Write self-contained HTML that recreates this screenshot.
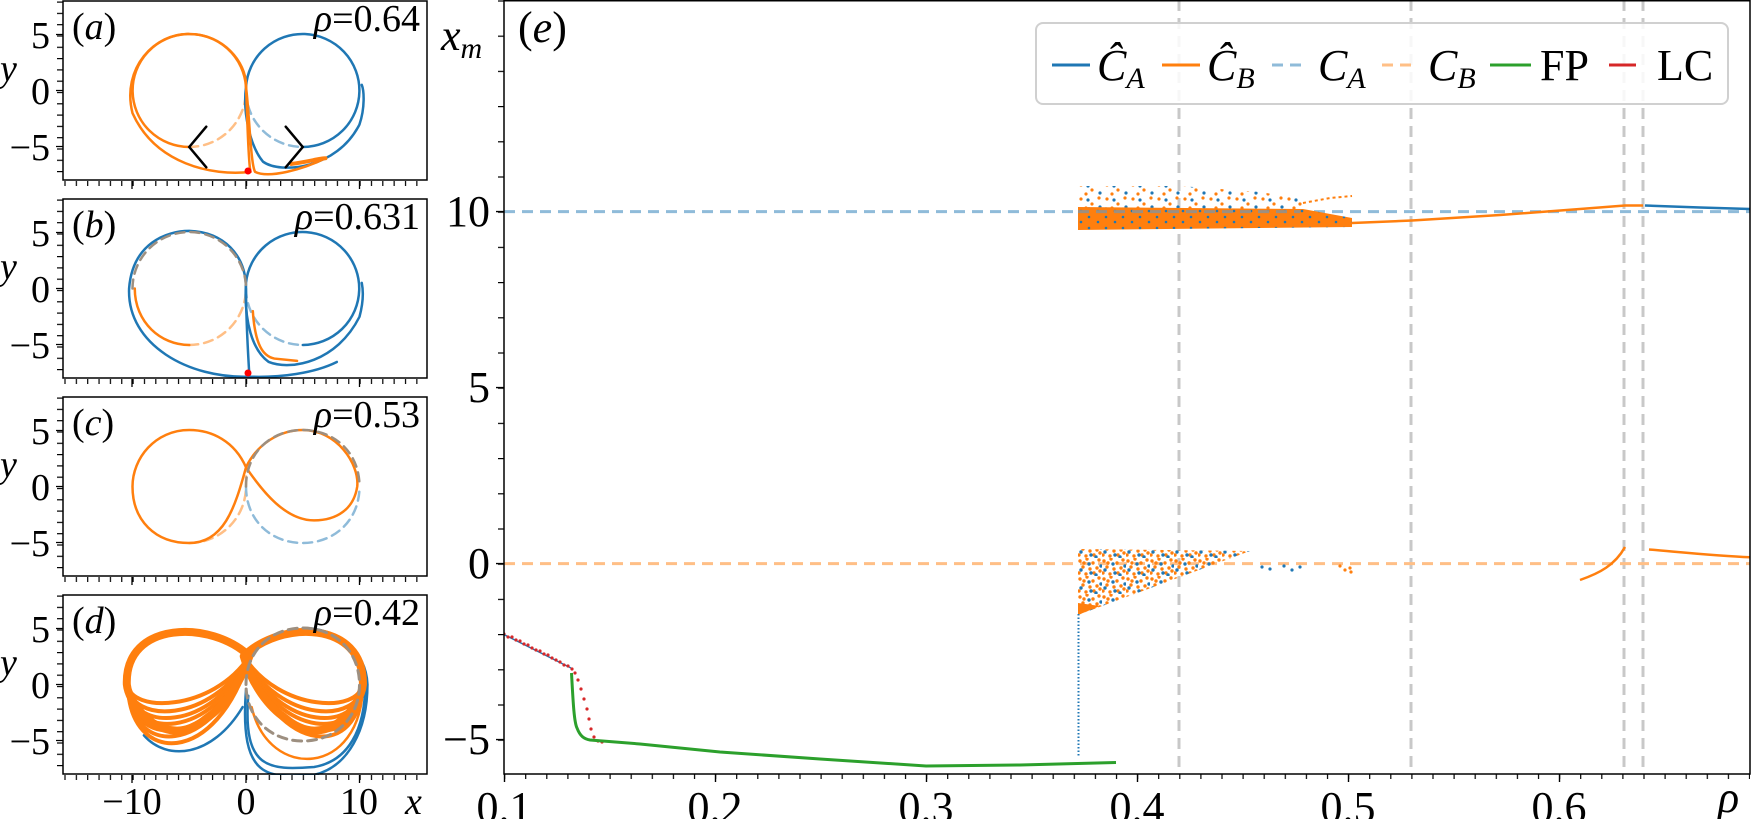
<!DOCTYPE html>
<html><head><meta charset="utf-8"><style>
html,body{margin:0;padding:0;background:#fff}
svg{display:block}
text{font-family:"Liberation Serif","DejaVu Serif",serif;fill:#000}
.it{font-style:italic}
</style></head><body>
<svg width="1751" height="819" viewBox="0 0 1751 819" xmlns="http://www.w3.org/2000/svg">
<defs>
<pattern id="mxx" x="504" y="0" width="21.1" height="10" patternUnits="userSpaceOnUse"><rect x="0" y="0" width="1.2" height="10" fill="#000"/></pattern>
<pattern id="mxy" x="0" y="563.6" width="10" height="35.2" patternUnits="userSpaceOnUse"><rect x="0" y="0" width="10" height="1.2" fill="#000"/></pattern>
<pattern id="lpx" x="246" y="0" width="11.35" height="10" patternUnits="userSpaceOnUse"><rect x="0" y="0" width="1.2" height="10" fill="#000"/></pattern>
<pattern id="lpy" x="0" y="0.5" width="10" height="11.3" patternUnits="userSpaceOnUse"><rect x="0" y="0" width="10" height="1.2" fill="#000"/></pattern>
<pattern id="cloud" x="1078" y="0" width="24" height="18" patternUnits="userSpaceOnUse">
 <g fill="#ff7f0e"><circle cx="2" cy="3" r="1.7"/><circle cx="9" cy="1" r="1.7"/><circle cx="15" cy="5" r="1.7"/><circle cx="21" cy="2" r="1.7"/><circle cx="5" cy="9" r="1.7"/><circle cx="12" cy="11" r="1.7"/><circle cx="19" cy="10" r="1.7"/><circle cx="1" cy="15" r="1.7"/><circle cx="8" cy="16" r="1.7"/><circle cx="16" cy="15" r="1.7"/><circle cx="22" cy="13" r="1.7"/><circle cx="6" cy="5" r="1.7"/></g>
 <g fill="#1f77b4"><circle cx="11" cy="6" r="1.7"/><circle cx="3" cy="12" r="1.7"/><circle cx="18" cy="17" r="1.7"/><circle cx="23" cy="8" r="1.7"/><circle cx="13" cy="15" r="1.7"/></g>
</pattern>
<pattern id="sparse" x="1078" y="0" width="26" height="14" patternUnits="userSpaceOnUse">
 <g fill="#ff7f0e"><circle cx="3" cy="3" r="1.6"/><circle cx="14" cy="8" r="1.6"/><circle cx="21" cy="2" r="1.6"/><circle cx="8" cy="12" r="1.6"/></g>
 <g fill="#1f77b4"><circle cx="10" cy="4" r="1.6"/><circle cx="22" cy="11" r="1.6"/></g>
</pattern>
<pattern id="bspeck" x="1078" y="0" width="17" height="11" patternUnits="userSpaceOnUse">
 <g fill="#1f77b4"><circle cx="3" cy="2" r="1.3"/><circle cx="11" cy="8" r="1.3"/></g>
</pattern>
<clipPath id="cp"><rect x="63" y="0" width="364" height="180"/></clipPath>
<clipPath id="cm"><rect x="504" y="0" width="1246" height="774"/></clipPath>
</defs>

<!-- Panel (a) -->
<g transform="translate(0,1)">
 <g clip-path="url(#cp)">
 <g transform="translate(246,89.5) scale(11.35,-11.3)" fill="none" stroke-linecap="round">
  <path d="M -5 -5 A 5 5 0 0 1 0 0" stroke="#ffbf86" stroke-width="2.5" stroke-dasharray="9 6" vector-effect="non-scaling-stroke"/>
  <path d="M 0 0 A 5 5 0 0 1 5 -5" stroke="#8fbbd9" stroke-width="2.5" stroke-dasharray="9 6" vector-effect="non-scaling-stroke"/>
  <path d="M 5 -5 A 5 5 0 1 1 0 0.3 C -0.3 -2 0.4 -5 1.5 -6.3 C 3 -7.4 8 -7 10 -3 C 10.5 -1.5 10.4 0 10.2 0.5" stroke="#1f77b4" stroke-width="2.5" vector-effect="non-scaling-stroke"/>
  <path d="M -5 -5 A 5 5 0 1 0 0 0.3 C 0.3 -2 0.4 -6.5 0.8 -7.2 C 2 -7.8 5 -7 7 -6" stroke="#ff7f0e" stroke-width="2.5" vector-effect="non-scaling-stroke"/>
  <path d="M 0.4 -7.2 C -3 -7.6 -8 -6.5 -10 -2 C -11 2 -8 5.1 -5 5 C -2 5 0 2.5 0 0.5 C 0.1 -2 0.2 -6.5 0.4 -7.2" stroke="#ff7f0e" stroke-width="2.5" vector-effect="non-scaling-stroke"/>
  <path d="M 4 -6.5 C 5.5 -6.3 6.5 -6 7 -6" stroke="#ff7f0e" stroke-width="4" vector-effect="non-scaling-stroke"/>
  <path d="M -3.5 -3.2 L -5 -5 L -3.5 -6.8 M 3.5 -3.2 L 5 -5 L 3.5 -6.8" stroke="#000" stroke-width="2.5" vector-effect="non-scaling-stroke"/>
 </g>
 <circle cx="248" cy="170" r="3.5" fill="#ff0000"/>
 </g>
</g>

<!-- Panel (b) -->
<g transform="translate(0,199)">
 <g clip-path="url(#cp)">
 <g transform="translate(246,89.5) scale(11.35,-11.3)" fill="none" stroke-linecap="round">
  <path d="M -5 -5 A 5 5 0 0 1 0 0" stroke="#ffbf86" stroke-width="2.5" stroke-dasharray="9 6" vector-effect="non-scaling-stroke"/>
  <path d="M 0 0 A 5 5 0 0 1 5 -5" stroke="#8fbbd9" stroke-width="2.5" stroke-dasharray="9 6" vector-effect="non-scaling-stroke"/>
  <path d="M 0.3 -7.8 C -5 -8 -10.5 -5 -10.3 0 C -10 4 -7 5.1 -5 5.1 C -2 5 0 3 0 0 C 0 -3 0.2 -6 0.3 -7.8 C 3 -7.9 6 -7.5 8 -6.5" stroke="#1f77b4" stroke-width="2.5" vector-effect="non-scaling-stroke"/>
  <path d="M 5 -5 A 5 5 0 1 1 0 0.5 C -0.2 -3 0.6 -5.5 2 -6.5 C 4 -7.3 8 -6.5 10 -2.5 C 10.4 -1 10.3 0 10.2 0.5" stroke="#1f77b4" stroke-width="2.5" vector-effect="non-scaling-stroke"/>
  <path d="M -5 -5 C -7.5 -5 -9.8 -3 -9.8 0" stroke="#ff7f0e" stroke-width="2.5" vector-effect="non-scaling-stroke"/>
  <path d="M 0.6 -2 C 0.8 -5 1.5 -6 2.5 -6.2 L 4.5 -6.4" stroke="#ff7f0e" stroke-width="2.5" vector-effect="non-scaling-stroke"/>
  <path d="M -10 0 A 5 5 0 0 0 0 0" stroke="#9d8f80" stroke-width="2.5" stroke-dasharray="9 6" vector-effect="non-scaling-stroke"/>
 </g>
 <circle cx="248" cy="174" r="3.5" fill="#ff0000"/>
 </g>
</g>

<!-- Panel (c) -->
<g transform="translate(0,397)">
 <g clip-path="url(#cp)">
 <g transform="translate(246,89.5) scale(11.35,-11.3)" fill="none" stroke-linecap="round">
  <path d="M -5 -5 A 5 5 0 0 1 0 0 L 0 1" stroke="#ffbf86" stroke-width="2.5" stroke-dasharray="9 6" vector-effect="non-scaling-stroke"/>
  <path d="M 0 0 C 0 -3 2.2 -5 5 -5 C 7.8 -5 10 -3 10 0" stroke="#8fbbd9" stroke-width="2.5" stroke-dasharray="9 6" vector-effect="non-scaling-stroke"/>
  <path d="M 0 1.7 C -1 4 -3 5 -5 5 C -8 5 -10 2.5 -10 0 C -10 -3 -8 -5 -5 -5 C -2 -5 -1 -2 0 1.7 C 1 3.8 3 5 5 5 C 8 5 10 2 9.8 0 C 9.5 -2 8 -3 6 -3 C 3.5 -3 1.5 -0.5 0 1.7 Z" stroke="#ff7f0e" stroke-width="2.5" vector-effect="non-scaling-stroke"/>
  <path d="M 0 0 C 0 3 2.2 5 5 5 C 7.8 5 10 3 10 0" stroke="#9d8f80" stroke-width="2.5" stroke-dasharray="9 6" vector-effect="non-scaling-stroke"/>
 </g>
 </g>
</g>

<!-- Panel (d) -->
<g transform="translate(0,595)">
 <g clip-path="url(#cp)">
 <g transform="translate(246,89.5) scale(11.35,-11.3)" fill="none" stroke-linecap="round">
  <path d="M 0 -0.5 C -0.6 -8.5 2 -8.3 6 -8 C 9 -7.3 10.7 -4 10.7 0 C 10.6 3 8 5 5 5" stroke="#1f77b4" stroke-width="2.5" vector-effect="non-scaling-stroke"/>
  <path d="M 0.2 -1 C -0.3 -7.5 2 -7.6 6 -7.3 C 9 -6.8 10.5 -4 10.5 0" stroke="#1f77b4" stroke-width="2.5" vector-effect="non-scaling-stroke"/>
  <path d="M -9 -4.5 C -7 -6.8 -3 -6.5 -0.3 -2" stroke="#1f77b4" stroke-width="2.5" vector-effect="non-scaling-stroke"/>
  <g stroke="#ff7f0e" stroke-width="4">
   <path d="M 0.3 2.5 C -3 5.6 -10.6 5.6 -10.4 0 C -10.3 -2.5 -3 -2.5 0.3 2.5" vector-effect="non-scaling-stroke"/>
   <path d="M 0.3 2.5 C -3 5.6 -10.6 5.6 -10.4 0 C -10.3 -3.5 -3 -3.5 0.3 2.5" vector-effect="non-scaling-stroke"/>
   <path d="M 0.3 2.5 C -3 5.6 -10.6 5.6 -10.4 0 C -10.3 -4.3 -3 -4.3 0.3 2.5" vector-effect="non-scaling-stroke"/>
   <path d="M 0.3 2.5 C -3 5.6 -10.6 5.6 -10.4 0 C -10.3 -5 -3 -5 0.3 2.5" vector-effect="non-scaling-stroke"/>
   <path d="M 0.3 2.5 C -3 5.6 -10.6 5.6 -10.4 0 C -10.3 -5.8 -3 -5.8 0.3 2.5" vector-effect="non-scaling-stroke"/>
   <path d="M 0.3 2.5 C -3 5.6 -10.6 5.6 -10.4 0 C -10.3 -6.5 -3 -6.5 0.3 2.5" vector-effect="non-scaling-stroke"/>
   <path d="M 0.3 2.5 C -3 5.6 -10.6 5.6 -10.4 0 C -10.3 -7.3 -2.5 -7.3 0.3 2.5" vector-effect="non-scaling-stroke"/>
   <path d="M -0.2 2.5 C 3 5.6 10.3 5.6 10.2 0 C 10.1 -2.5 3 -2.5 -0.2 2.5" vector-effect="non-scaling-stroke"/>
   <path d="M -0.2 2.5 C 3 5.6 10.3 5.6 10.2 0 C 10.1 -3.5 3 -3.5 -0.2 2.5" vector-effect="non-scaling-stroke"/>
   <path d="M -0.2 2.5 C 3 5.6 10.3 5.6 10.2 0 C 10.1 -4.3 3 -4.3 -0.2 2.5" vector-effect="non-scaling-stroke"/>
   <path d="M -0.2 2.5 C 3 5.6 10.3 5.6 10.2 0 C 10.1 -5 3 -5 -0.2 2.5" vector-effect="non-scaling-stroke"/>
   <path d="M -0.2 2.5 C 3 5.6 10.3 5.6 10.2 0 C 10.1 -5.8 3 -5.8 -0.2 2.5" vector-effect="non-scaling-stroke"/>
   <path d="M -0.2 2.5 C 3 5.6 10.3 5.6 10.2 0 C 10.1 -6.5 3 -6.5 -0.2 2.5" vector-effect="non-scaling-stroke"/>
  </g>
  <path d="M -0.2 2.5 C 3 5.7 10.4 5.7 10.3 0 C 10.2 -8.2 2 -8.6 0.5 -2" stroke="#ff7f0e" stroke-width="2.5" vector-effect="non-scaling-stroke"/>
  <path d="M 0.3 2.5 C -3 5.7 -10.7 5.7 -10.5 0 C -10.3 -2 -7 -6 -3.5 -3 C -2 -2 -0.5 0 0.3 2.5" stroke="#ff7f0e" stroke-width="8" vector-effect="non-scaling-stroke"/>
  <path d="M -0.2 2.5 C 3 5.7 10.4 5.7 10.3 0 C 10.1 -2 7 -6 3.5 -3 C 2 -2 0.5 0 -0.2 2.5" stroke="#ff7f0e" stroke-width="8" vector-effect="non-scaling-stroke"/>
  <path d="M 0 0 C 0 3 2.2 5 5 5 C 7.8 5 10 3 10 0 C 10 -3 7.8 -5 5 -5 C 2.2 -5 0 -3 0 0" stroke="#9d8f80" stroke-width="3" stroke-dasharray="9 6" vector-effect="non-scaling-stroke"/>
 </g>
 </g>
</g>

<!-- left panel frames, ticks -->
<g>
 <g transform="translate(0,1)">
  <rect x="57" y="0" width="6" height="180" fill="url(#lpy)"/><rect x="63" y="180" width="364" height="5" fill="url(#lpx)"/>
  <path d="M56 33.5h7M56 89.5h7M56 145.5h7M132 180v8M246 180v8M359.5 180v8" stroke="#000" stroke-width="1.3"/>
  <rect x="63" y="0" width="364" height="179" fill="none" stroke="#000" stroke-width="1.5"/>
 </g>
 <g transform="translate(0,199)">
  <rect x="57" y="0" width="6" height="180" fill="url(#lpy)"/><rect x="63" y="180" width="364" height="5" fill="url(#lpx)"/>
  <path d="M56 33.5h7M56 89.5h7M56 145.5h7M132 180v8M246 180v8M359.5 180v8" stroke="#000" stroke-width="1.3"/>
  <rect x="63" y="0" width="364" height="179" fill="none" stroke="#000" stroke-width="1.5"/>
 </g>
 <g transform="translate(0,397)">
  <rect x="57" y="0" width="6" height="180" fill="url(#lpy)"/><rect x="63" y="180" width="364" height="5" fill="url(#lpx)"/>
  <path d="M56 33.5h7M56 89.5h7M56 145.5h7M132 180v8M246 180v8M359.5 180v8" stroke="#000" stroke-width="1.3"/>
  <rect x="63" y="0" width="364" height="179" fill="none" stroke="#000" stroke-width="1.5"/>
 </g>
 <g transform="translate(0,595)">
  <rect x="57" y="0" width="6" height="180" fill="url(#lpy)"/><rect x="63" y="180" width="364" height="5" fill="url(#lpx)"/>
  <path d="M56 33.5h7M56 89.5h7M56 145.5h7M132 180v8M246 180v8M359.5 180v8" stroke="#000" stroke-width="1.3"/>
  <rect x="63" y="0" width="364" height="179" fill="none" stroke="#000" stroke-width="1.5"/>
 </g>
</g>

<!-- left panel labels -->
<g font-size="38">
 <g transform="translate(0,1)">
  <text x="50" y="47" text-anchor="end">5</text><text x="50" y="103" text-anchor="end">0</text><text x="50" y="159" text-anchor="end">−5</text>
  <text x="0" y="80" class="it">y</text>
  <text x="72" y="38">(<tspan class="it">a</tspan>)</text>
  <text x="420" y="30" text-anchor="end"><tspan class="it">ρ</tspan>=0.64</text>
 </g>
 <g transform="translate(0,199)">
  <text x="50" y="47" text-anchor="end">5</text><text x="50" y="103" text-anchor="end">0</text><text x="50" y="159" text-anchor="end">−5</text>
  <text x="0" y="80" class="it">y</text>
  <text x="72" y="38">(<tspan class="it">b</tspan>)</text>
  <text x="420" y="30" text-anchor="end"><tspan class="it">ρ</tspan>=0.631</text>
 </g>
 <g transform="translate(0,397)">
  <text x="50" y="47" text-anchor="end">5</text><text x="50" y="103" text-anchor="end">0</text><text x="50" y="159" text-anchor="end">−5</text>
  <text x="0" y="80" class="it">y</text>
  <text x="72" y="38">(<tspan class="it">c</tspan>)</text>
  <text x="420" y="30" text-anchor="end"><tspan class="it">ρ</tspan>=0.53</text>
 </g>
 <g transform="translate(0,595)">
  <text x="50" y="47" text-anchor="end">5</text><text x="50" y="103" text-anchor="end">0</text><text x="50" y="159" text-anchor="end">−5</text>
  <text x="0" y="80" class="it">y</text>
  <text x="72" y="38">(<tspan class="it">d</tspan>)</text>
  <text x="420" y="30" text-anchor="end"><tspan class="it">ρ</tspan>=0.42</text>
 </g>
 <text x="132" y="814" text-anchor="middle">−10</text>
 <text x="246" y="814" text-anchor="middle">0</text>
 <text x="359" y="814" text-anchor="middle">10</text>
 <text x="405" y="814" class="it">x</text>
</g>

<!-- ============ MAIN PANEL ============ -->
<g clip-path="url(#cm)">
 <path d="M1179 0V774M1411 0V774M1624 0V774M1643 0V774" stroke="#c8c8c8" stroke-width="3" stroke-dasharray="11 7"/>
 <path d="M504 211.6H1751" stroke="#8fbbd9" stroke-width="3" stroke-dasharray="11 7"/>
 <path d="M504 563.6H1751" stroke="#ffbf86" stroke-width="3" stroke-dasharray="11 7"/>
 <!-- upper cloud -->
 <path d="M1078 186 L1180 186 L1260 192 L1303 199 L1303 210 L1078 210 Z" fill="url(#sparse)"/>
 <path d="M1078 207 L1303 209 L1352 218 L1352 227 L1078 230 Z" fill="#ff7f0e"/>
 <path d="M1078 207 L1303 209 L1352 218 L1352 227 L1078 230 Z" fill="url(#bspeck)"/>
 <path d="M1078 211.6H1300" stroke="#9d8f80" stroke-width="3" stroke-dasharray="11 7"/>
 <path d="M1303 203 L1330 198 L1352 196" stroke="#ff7f0e" stroke-width="2" fill="none" stroke-dasharray="3 3"/>
 <!-- orange continuation line -->
 <path d="M1352 223 L1412 220.5 L1500 215 L1580 209 L1625 205.5 L1643 205.5" stroke="#ff7f0e" stroke-width="2.5" fill="none"/>
 <path d="M1645 205.5 L1700 207.5 L1751 209" stroke="#1f77b4" stroke-width="2.5" fill="none"/>
 <!-- lower cloud -->
 <path d="M1078 549 L1250 551 L1078 615 Z" fill="url(#cloud)"/>
 <path d="M1078 603 L1100 606 L1078 615 Z" fill="#ff7f0e"/>
 <g fill="#1f77b4"><circle cx="1262" cy="567" r="1.6"/><circle cx="1270" cy="569" r="1.6"/><circle cx="1284" cy="566" r="1.6"/><circle cx="1292" cy="570" r="1.6"/><circle cx="1300" cy="567" r="1.6"/></g>
 <g fill="#ff7f0e"><circle cx="1340" cy="566" r="1.6"/><circle cx="1345" cy="570" r="1.6"/><circle cx="1350" cy="568" r="1.6"/><circle cx="1351" cy="572" r="1.6"/></g>
 <path d="M1580 580 C1600 573 1615 565 1625 547" stroke="#ff7f0e" stroke-width="2.5" fill="none"/>
 <path d="M1649 549.5 C1690 553 1720 556 1751 557.3" stroke="#ff7f0e" stroke-width="2.5" fill="none"/>
 <!-- blue vertical dotted -->
 <path d="M1078.5 614V757" stroke="#1f77b4" stroke-width="2" stroke-dasharray="1.5 2"/>
 <!-- LC branch -->
 <path d="M504 634.6 L571 668" stroke="#1f77b4" stroke-width="1.5"/>
 <g fill="#d62728">
  <circle cx="504" cy="634" r="1.6"/><circle cx="508" cy="637" r="1.6"/><circle cx="512" cy="637" r="1.6"/><circle cx="516" cy="640" r="1.6"/><circle cx="520" cy="641" r="1.6"/><circle cx="524" cy="644" r="1.6"/><circle cx="528" cy="645" r="1.6"/><circle cx="532" cy="648" r="1.6"/><circle cx="536" cy="650" r="1.6"/><circle cx="540" cy="651" r="1.6"/><circle cx="544" cy="654" r="1.6"/><circle cx="548" cy="655" r="1.6"/><circle cx="552" cy="658" r="1.6"/><circle cx="556" cy="660" r="1.6"/><circle cx="560" cy="662" r="1.6"/><circle cx="564" cy="665" r="1.6"/><circle cx="568" cy="666" r="1.6"/><circle cx="572" cy="669" r="1.6"/>
  <circle cx="575" cy="673" r="1.6"/><circle cx="578" cy="680" r="1.6"/><circle cx="581" cy="689" r="1.6"/><circle cx="584" cy="699" r="1.6"/><circle cx="587" cy="709" r="1.6"/><circle cx="589" cy="719" r="1.6"/><circle cx="591" cy="729" r="1.6"/><circle cx="594" cy="737" r="1.6"/><circle cx="598" cy="741" r="1.6"/><circle cx="602" cy="742" r="1.6"/>
 </g>
 <!-- green FP -->
 <path d="M571.5 673 C573 700 574 722 577 728 C580 736 584 739 590 740 L640 744 L720 752 L820 759 L926 766 L1020 765 L1116 762.5" stroke="#2ca02c" stroke-width="3" fill="none"/>
</g>

<!-- main frame and ticks -->
<rect x="504" y="774" width="1246" height="5" fill="url(#mxx)"/>
<rect x="498" y="0" width="6" height="774" fill="url(#mxy)"/>
<path d="M504.5 774v8M715.5 774v8M926.5 774v8M1137.5 774v8M1348.5 774v8M1559.5 774v8M496 563.6h8M496 387.6h8M496 211.6h8M496 739.6h8" stroke="#000" stroke-width="1.4"/>
<rect x="504" y="0.75" width="1246" height="773.25" fill="none" stroke="#000" stroke-width="1.5"/>

<g font-size="44">
 <text x="490" y="226" text-anchor="end">10</text>
 <text x="490" y="402" text-anchor="end">5</text>
 <text x="490" y="578" text-anchor="end">0</text>
 <text x="490" y="754" text-anchor="end">−5</text>
 <text x="504" y="822" text-anchor="middle">0.1</text>
 <text x="715" y="822" text-anchor="middle">0.2</text>
 <text x="926" y="822" text-anchor="middle">0.3</text>
 <text x="1137" y="822" text-anchor="middle">0.4</text>
 <text x="1348" y="822" text-anchor="middle">0.5</text>
 <text x="1559" y="822" text-anchor="middle">0.6</text>
 <text x="1718" y="812" class="it">ρ</text>
 <text x="441" y="50" class="it">x<tspan font-size="30" dy="8">m</tspan></text>
 <text x="518" y="42">(<tspan class="it">e</tspan>)</text>
</g>

<!-- legend -->
<rect x="1036" y="23" width="692" height="81" rx="7" fill="#fff" fill-opacity="0.85" stroke="#d0d0d0" stroke-width="2"/>
<path d="M1052 65H1090" stroke="#1f77b4" stroke-width="3"/>
<path d="M1162 65H1200" stroke="#ff7f0e" stroke-width="3"/>
<path d="M1272 65H1306" stroke="#8fbbd9" stroke-width="3" stroke-dasharray="11 7"/>
<path d="M1382 65H1414" stroke="#ffbf86" stroke-width="3" stroke-dasharray="11 7"/>
<path d="M1490 65H1531" stroke="#2ca02c" stroke-width="3"/>
<path d="M1609 65H1636" stroke="#d62728" stroke-width="3"/>
<g font-size="44">
 <text x="1097" y="80" class="it">Ĉ<tspan font-size="30" dy="8">A</tspan></text>
 <text x="1207" y="80" class="it">Ĉ<tspan font-size="30" dy="8">B</tspan></text>
 <text x="1318" y="80" class="it">C<tspan font-size="30" dy="8">A</tspan></text>
 <text x="1428" y="80" class="it">C<tspan font-size="30" dy="8">B</tspan></text>
 <text x="1540" y="80">FP</text>
 <text x="1657" y="80">LC</text>
</g>
</svg>
</body></html>
